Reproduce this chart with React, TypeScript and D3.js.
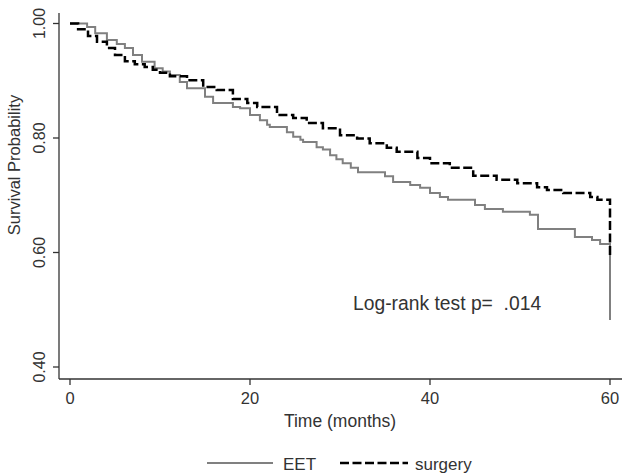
import React from "react";
import * as d3 from "d3";

const eetTime = [0, 1.9, 2.8, 4.1, 5.2, 6.1, 7.0, 8.0, 9.4, 10.3, 11.1, 12.2, 13.0, 15.0, 15.9, 18.1, 18.9, 20.0, 21.1, 21.9, 22.2, 24.1, 24.8, 25.6, 25.9, 27.4, 28.1, 28.9, 29.6, 30.3, 31.2, 32.0, 35.0, 35.9, 37.8, 38.9, 40.0, 41.1, 42.0, 45.0, 46.1, 48.1, 51.1, 52.0, 56.1, 58.0, 58.9, 60.0, 60.0];
const eetSurv = [1.0, 0.994, 0.983, 0.971, 0.964, 0.957, 0.945, 0.933, 0.922, 0.916, 0.910, 0.898, 0.887, 0.872, 0.861, 0.854, 0.852, 0.840, 0.831, 0.823, 0.819, 0.810, 0.802, 0.797, 0.793, 0.784, 0.780, 0.770, 0.763, 0.756, 0.748, 0.740, 0.733, 0.723, 0.718, 0.713, 0.704, 0.697, 0.692, 0.683, 0.676, 0.671, 0.666, 0.641, 0.627, 0.622, 0.615, 0.613, 0.482];

const surgTime = [0, 0.9, 2.0, 3.0, 4.1, 5.0, 6.1, 7.2, 8.3, 9.2, 10.0, 11.1, 13.0, 14.8, 16.3, 18.1, 19.7, 20.8, 23.0, 24.8, 26.3, 28.1, 30.0, 31.9, 33.3, 35.2, 36.3, 38.6, 40.0, 42.2, 44.8, 47.4, 49.7, 51.9, 53.0, 54.8, 57.8, 58.6, 60.0, 60.0];
const surgSurv = [1.0, 0.990, 0.978, 0.968, 0.957, 0.945, 0.934, 0.929, 0.924, 0.919, 0.914, 0.908, 0.901, 0.889, 0.884, 0.868, 0.861, 0.854, 0.840, 0.835, 0.826, 0.817, 0.805, 0.799, 0.791, 0.783, 0.776, 0.765, 0.756, 0.748, 0.734, 0.727, 0.721, 0.714, 0.709, 0.704, 0.697, 0.692, 0.688, 0.592];

const xTicks = [0, 20, 40, 60];
const yTicks = [0.4, 0.6, 0.8, 1.0];
const seriesNames = ["EET", "surgery"];
const annotation = "Log-rank test p=  .014";
const xTitle = "Time (months)";
const yTitle = "Survival Probability";

const W = 629;
const H = 476;
const FONT = "'Liberation Sans', Arial, sans-serif";
const INK = "#333";

export default function App() {
  const x = d3.scaleLinear().domain([0, 60]).range([70, 610]);
  const y = d3.scaleLinear().domain([0.4, 1.0]).range([367, 23.5]);
  const axisLeft = 59;
  const axisBottom = 379;

  const line = d3
    .line<[number, number]>()
    .x((d) => x(d[0]))
    .y((d) => y(d[1]))
    .curve(d3.curveStepAfter);

  const eetPts = eetTime.map((t, i) => [t, eetSurv[i]] as [number, number]);
  const surgPts = surgTime.map((t, i) => [t, surgSurv[i]] as [number, number]);

  return (
    <svg
      width={W}
      height={H}
      style={{ position: "absolute", left: 0, top: 0, background: "#fff" }}
      fontFamily={FONT}
    >
      <rect width={W} height={H} fill="#fff" />
      {/* axes */}
      <line x1={axisLeft} x2={axisLeft} y1={13} y2={axisBottom} stroke={INK} strokeWidth={1.3} />
      <line x1={axisLeft} x2={622} y1={axisBottom} y2={axisBottom} stroke={INK} strokeWidth={1.3} />
      {yTicks.map((t) => (
        <g key={"y" + t}>
          <line x1={axisLeft - 6} x2={axisLeft} y1={y(t)} y2={y(t)} stroke={INK} strokeWidth={1.3} />
          <text
            transform={`translate(${45},${y(t)}) rotate(-90)`}
            textAnchor="middle"
            fontSize={16}
            fill={INK}
          >
            {t.toFixed(2)}
          </text>
        </g>
      ))}
      {xTicks.map((t) => (
        <g key={"x" + t}>
          <line x1={x(t)} x2={x(t)} y1={axisBottom} y2={axisBottom + 6} stroke={INK} strokeWidth={1.3} />
          <text x={x(t)} y={404} textAnchor="middle" fontSize={16.5} fill={INK}>
            {t}
          </text>
        </g>
      ))}
      <text x={340} y={427} textAnchor="middle" fontSize={17.5} fill={INK}>
        {xTitle}
      </text>
      <text transform={`translate(20,${165}) rotate(-90)`} textAnchor="middle" fontSize={16.5} fill={INK}>
        {yTitle}
      </text>

      {/* curves */}
      <path d={line(eetPts) || ""} fill="none" stroke="#808080" strokeWidth={2} />
      <path d={line(surgPts) || ""} fill="none" stroke="#000" strokeWidth={2.5} strokeDasharray="9,3.5" />

      <text x={353} y={310} fontSize={19.3} fill={INK} style={{ whiteSpace: "pre" }}>
        {annotation}
      </text>

      {/* legend */}
      <line x1={207} x2={273} y1={463} y2={463} stroke="#808080" strokeWidth={2} />
      <text x={283} y={470} fontSize={17} fill={INK}>
        {seriesNames[0]}
      </text>
      <line x1={340} x2={408} y1={463} y2={463} stroke="#000" strokeWidth={2.5} strokeDasharray="9,3.5" />
      <text x={415} y={470} fontSize={17} fill={INK}>
        {seriesNames[1]}
      </text>
    </svg>
  );
}
